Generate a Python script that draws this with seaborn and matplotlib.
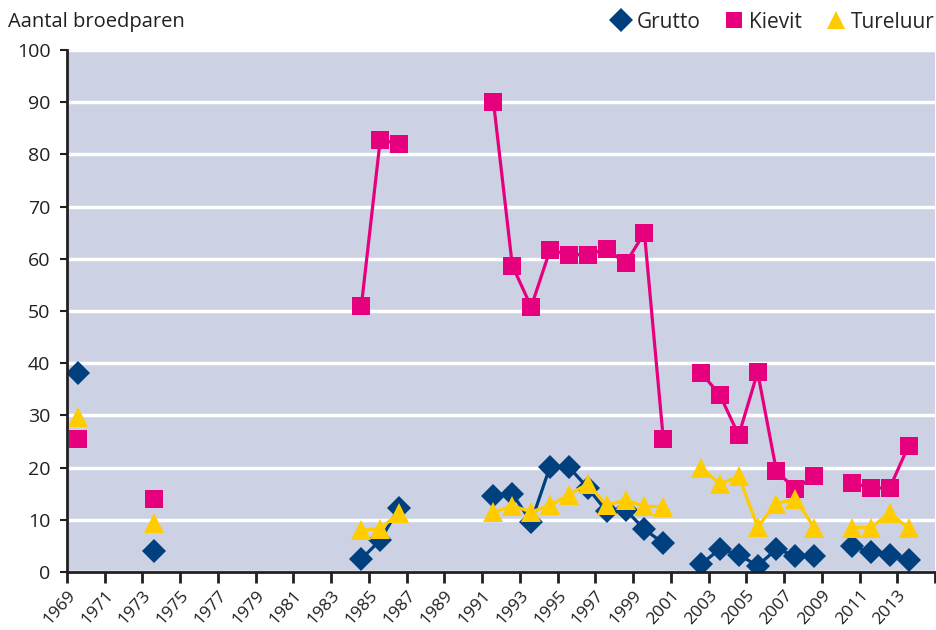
import numpy as np
import pandas as pd
import matplotlib
matplotlib.use("Agg")
import matplotlib.pyplot as plt
import seaborn as sns
from matplotlib.lines import Line2D

years = list(range(1969, 2014))

grutto_years = [1969, 1973, 1984, 1985, 1986, 1991, 1992, 1993, 1994, 1995, 1996, 1997,
                1998, 1999, 2000, 2002, 2003, 2004, 2005, 2006, 2007, 2008, 2010, 2011,
                2012, 2013]
grutto = [38.1, 4.1, 2.5, 6.1, 12.3, 14.6, 15.0, 9.6, 20.2, 20.1, 16.1, 11.6,
          11.9, 8.2, 5.5, 1.5, 4.4, 3.3, 1.2, 4.4, 3.1, 3.1, 5.0, 3.8, 3.3, 2.3]

kievit_years = grutto_years
kievit = [25.5, 14.0, 51.0, 82.8, 82.0, 90.1, 58.7, 50.8, 61.7, 60.8, 60.8, 61.9,
          59.1, 65.0, 25.5, 38.2, 33.9, 26.2, 38.3, 19.3, 15.9, 18.4, 17.1, 16.1,
          16.1, 24.2]

tureluur_years = grutto_years
tureluur = [29.7, 9.4, 8.0, 8.3, 11.3, 11.4, 12.7, 11.5, 12.8, 14.8, 16.9, 12.8,
            13.8, 12.6, 12.5, 20.0, 16.9, 18.3, 8.7, 13.1, 14.0, 8.5, 8.5, 8.5,
            11.3, 8.4]

series_names = ["Grutto", "Kievit", "Tureluur"]
series_colors = ["#00407F", "#E6007E", "#FFCC00"]
series_markers = ["D", "s", "^"]
series_msizes = [12.5, 12.5, 14]

x_ticks = list(range(1969, 2016, 2))
x_labels = [str(y) if y <= 2013 else "" for y in x_ticks]
y_ticks = list(range(0, 101, 10))

title_text = "Aantal broedparen"


def segmented(yrs, vals):
    df = pd.DataFrame({"year": yrs, "value": vals})
    full = pd.DataFrame({"year": years}).merge(df, on="year", how="left")
    full["segment"] = full["value"].isna().cumsum()
    full = full.dropna()
    full["xpos"] = full["year"] + 0.6
    return full


data = [segmented(grutto_years, grutto),
        segmented(kievit_years, kievit),
        segmented(tureluur_years, tureluur)]

sns.set_theme(style="white")
plt.rcParams["font.family"] = ["Open Sans", "DejaVu Sans"]

fig = plt.figure(figsize=(9.37, 6.30), dpi=100)
ax = fig.add_axes([67 / 937, 1 - 572 / 630, (935 - 67) / 937, (572 - 50) / 630])
ax.set_facecolor("#CCD2E4")

for df, name, col, mk, ms in zip(data, series_names, series_colors, series_markers, series_msizes):
    sns.lineplot(data=df, x="xpos", y="value", units="segment", estimator=None,
                 color=col, marker=mk, markersize=ms, markeredgewidth=0,
                 linewidth=2.3, ax=ax, legend=False, zorder=3)

ax.set_xlim(1969, 2015)
ax.set_ylim(0, 100)
ax.set_xticks(x_ticks)
ax.set_xticklabels(x_labels, rotation=48, ha="right", va="top", rotation_mode="anchor",
                   fontsize=12.5, color="#231F20")
ax.set_yticks(y_ticks)
ax.set_yticklabels([str(v) for v in y_ticks], fontsize=14, color="#231F20")
ax.yaxis.grid(True, color="white", linewidth=2.5)
ax.xaxis.grid(False)
ax.set_axisbelow(True)
ax.set_xlabel("")
ax.set_ylabel("")
for s in ["top", "right"]:
    ax.spines[s].set_visible(False)
for s in ["left", "bottom"]:
    ax.spines[s].set_color("#231F20")
    ax.spines[s].set_linewidth(2)
    ax.spines[s].set_zorder(5)
ax.tick_params(axis="x", direction="out", length=8, width=2, color="#231F20", pad=3, bottom=True)
ax.tick_params(axis="y", direction="out", length=5, width=1.5, color="#231F20", pad=7, left=True)

fig.text(8 / 937, 1 - 22 / 630, title_text, fontsize=14.5, color="#231F20", va="center", ha="left")

handles = [Line2D([], [], linestyle="none", marker=mk, color=col, markersize=ms, markeredgewidth=0)
           for col, mk, ms in zip(series_colors, series_markers, [12, 12, 13])]
fig.legend(handles, series_names, loc="center right", bbox_to_anchor=(1.0, 1 - 22 / 630),
           ncol=3, frameon=False, fontsize=15, handletextpad=0.25, columnspacing=1.1,
           handlelength=1.0, borderaxespad=0.0, borderpad=0.1)

fig.savefig("out.png", dpi=100)
